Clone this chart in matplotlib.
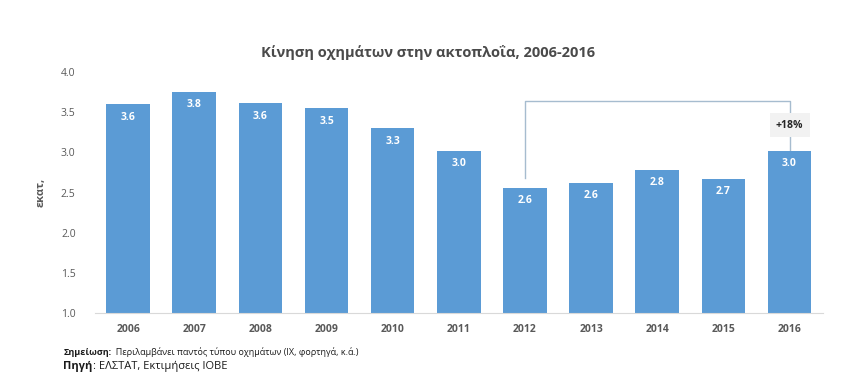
import numpy as np
import matplotlib.pyplot as plt

plt.rcParams['font.family'] = ['Open Sans', 'DejaVu Sans']

##========== Data ==========##
years = ['2006', '2007', '2008', '2009', '2010', '2011',
         '2012', '2013', '2014', '2015', '2016']
values = [3.60, 3.75, 3.61, 3.55, 3.30, 3.02, 2.56, 2.62, 2.78, 2.67, 3.02]
bar_labels = ['3.6', '3.8', '3.6', '3.5', '3.3', '3.0', '2.6', '2.6', '2.8', '2.7', '3.0']
yticks = [1.0, 1.5, 2.0, 2.5, 3.0, 3.5, 4.0]
change_label = '+18%'

bar_color = '#5B9BD5'
text_grey = '#595959'

##========== Plot ==========##
fig = plt.figure(figsize=(8.56, 3.79), dpi=100)
ax = fig.add_axes([0.111, 0.174, 0.85, 0.636])

x = np.arange(len(years))
ax.bar(x, values, width=0.66, color=bar_color, zorder=2)

# value labels inside the bars
for xi, v, lab in zip(x, values, bar_labels):
    ax.text(xi, v - 0.16, lab, ha='center', va='center', color='white',
            fontsize=7.5, fontweight='bold', zorder=3)

ax.set_xlim(-0.5, len(years) - 0.5)
ax.set_ylim(1.0, 4.0)
ax.set_yticks(yticks)
ax.set_yticklabels([f'{t:.1f}' for t in yticks])
ax.set_xticks(x)
ax.set_xticklabels(years, fontweight='bold')
ax.tick_params(length=0, colors=text_grey, labelsize=7.5)
ax.tick_params(axis='x', pad=8)
ax.tick_params(axis='y', pad=14)

for s in ['top', 'right', 'left']:
    ax.spines[s].set_visible(False)
ax.spines['bottom'].set_color('#d9d9d9')

# bracket from 2012 to 2016
i0, i1 = 6, 10
top = 3.64
line_c = '#a6bccf'
ax.plot([i0, i0, i1, i1], [values[i0] + 0.12, top, top, 3.43],
        color=line_c, lw=1, zorder=1, clip_on=False)
ax.plot([i1, i1], [3.25, values[i1]], color=line_c, lw=1, zorder=1)
ax.text(i1, 3.34, change_label, ha='center', va='center', fontsize=7.5,
        fontweight='bold', color='#262626', zorder=3,
        bbox=dict(boxstyle='square,pad=0.6', fc='#f2f2f2', ec='none'))

ax.set_ylabel('εκατ,', fontsize=8, fontweight='bold', color=text_grey, labelpad=10)

fig.text(0.5, 0.862, 'Κίνηση οχημάτων στην ακτοπλοΐα, 2006-2016', ha='center',
         va='center', fontsize=10.5, fontweight='bold', color='#4a4a4a')

note = fig.text(0.074, 0.071, 'Σημείωση:', fontsize=6.5, fontweight='bold',
                color='#1a1a1a', va='center')
ax.annotate('  Περιλαμβάνει παντός τύπου οχημάτων (ΙΧ, φορτηγά, κ.ά.)', xy=(1, 0.5),
            xycoords=note, va='center', fontsize=6.5, color='#1a1a1a')
src = fig.text(0.074, 0.032, 'Πηγή', fontsize=8, fontweight='bold',
               color='#1a1a1a', va='center')
ax.annotate(': ΕΛΣΤΑΤ, Εκτιμήσεις ΙΟΒΕ', xy=(1, 0.5), xycoords=src,
            va='center', fontsize=8, color='#1a1a1a')

fig.savefig('out.png', dpi=100)
